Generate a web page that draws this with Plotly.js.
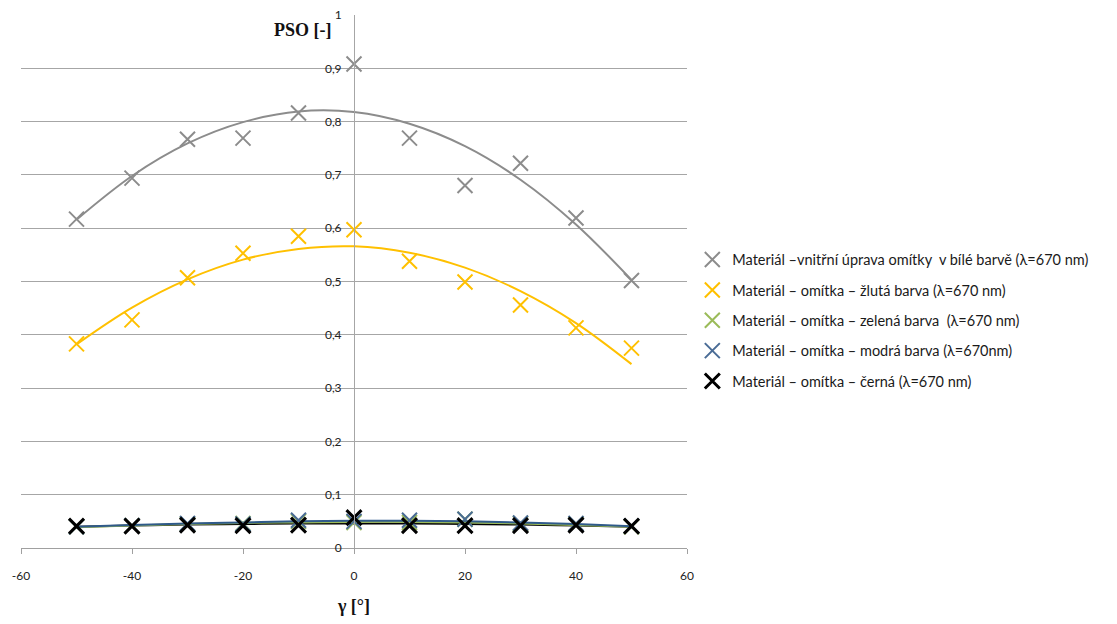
<!DOCTYPE html>
<html>
<head>
<meta charset="utf-8">
<script src="https://cdn.plot.ly/plotly-3.0.1.min.js"></script>
<style>
  html, body { margin: 0; padding: 0; background: #ffffff; }
  #chart { width: 1117px; height: 624px; }
</style>
</head>
<body>
<div id="chart"></div>
<script>
// ---- data ----
const gamma = [-50, -40, -30, -20, -10, 0, 10, 20, 30, 40, 50];

const seriesNames = [
  "Materiál –vnitřní úprava omítky  v bílé barvě (λ=670 nm)",
  "Materiál – omítka – žlutá barva (λ=670 nm)",
  "Materiál – omítka – zelená barva  (λ=670 nm)",
  "Materiál – omítka – modrá barva (λ=670nm)",
  "Materiál – omítka – černá (λ=670 nm)"
];

const psoWhite  = [0.617, 0.694, 0.767, 0.769, 0.816, 0.908, 0.769, 0.680, 0.722, 0.619, 0.502];
const psoYellow = [0.383, 0.428, 0.507, 0.553, 0.585, 0.597, 0.538, 0.499, 0.456, 0.413, 0.375];
const psoGreen  = [0.040, 0.042, 0.045, 0.046, 0.050, 0.048, 0.048, 0.054, 0.046, 0.045, 0.040];
const psoBlue   = [0.040, 0.042, 0.046, 0.045, 0.052, 0.050, 0.052, 0.054, 0.047, 0.046, 0.041];
const psoBlack  = [0.041, 0.041, 0.043, 0.042, 0.043, 0.057, 0.042, 0.042, 0.042, 0.043, 0.041];

// polynomial trend lines
const trendWhite  = [0.616, 0.698, 0.759, 0.799, 0.819, 0.818, 0.796, 0.754, 0.691, 0.607, 0.503];
const trendYellow = [0.382, 0.451, 0.504, 0.541, 0.561, 0.566, 0.554, 0.526, 0.482, 0.422, 0.345];
const trendGreen  = [0.039, 0.042, 0.045, 0.047, 0.048, 0.049, 0.049, 0.048, 0.046, 0.043, 0.040];
const trendBlue   = [0.040, 0.043, 0.046, 0.048, 0.050, 0.051, 0.051, 0.050, 0.048, 0.045, 0.041];
const trendBlack  = [0.040, 0.042, 0.044, 0.045, 0.046, 0.046, 0.046, 0.045, 0.044, 0.042, 0.040];

const yTicks = [0, 0.1, 0.2, 0.3, 0.4, 0.5, 0.6, 0.7, 0.8, 0.9, 1];
const xTicks = [-60, -40, -20, 0, 20, 40, 60];

// ---- styles ----
const colors = ["#8c8c8c", "#ffc000", "#9bbb59", "#4a6c96", "#000000"];
const lineColors = ["#8c8c8c", "#ffc000", "#9bbb59", "#2f5a8a", "#000000"];
const values = [psoWhite, psoYellow, psoGreen, psoBlue, psoBlack];
const trends = [trendWhite, trendYellow, trendGreen, trendBlue, trendBlack];

const traces = [];
const lineOrder = [0, 1, 4, 2, 3];
lineOrder.forEach(i => {
  traces.push({
    x: gamma, y: trends[i], type: "scatter", mode: "lines",
    line: { color: lineColors[i], width: 2, shape: "spline", smoothing: 1 },
    showlegend: false, hoverinfo: "skip", legendgroup: "line" + i
  });
});
[0, 1, 2, 3, 4].forEach(i => {
  traces.push({
    x: gamma, y: values[i], type: "scatter", mode: "markers",
    name: seriesNames[i], legendgroup: "g" + i,
    marker: { symbol: "x-thin", size: 15,
              color: colors[i],
              line: { color: colors[i], width: i === 4 ? 3 : 2 } }
  });
});

const layout = {
  width: 1117, height: 624,
  margin: { l: 21, r: 430, t: 15, b: 76 },
  paper_bgcolor: "#ffffff", plot_bgcolor: "#ffffff",
  separators: ", ",
  font: { family: "Lato, 'Open Sans', sans-serif", size: 12, color: "#222" },
  showlegend: true,
  legend: {
    x: 1.008, y: 0.571, xanchor: "left", yanchor: "top",
    font: { family: "Lato, 'Open Sans', sans-serif", size: 14.5, color: "#1a1a1a" },
    tracegroupgap: 8.5, traceorder: "grouped",
    itemwidth: 30, borderwidth: 0,
    bgcolor: "rgba(0,0,0,0)"
  },
  xaxis: {
    range: [-60, 60], tickvals: xTicks, ticktext: xTicks.map(String),
    showgrid: false, zeroline: false,
    showline: true, linecolor: "#a0a0a0", linewidth: 1,
    ticks: "outside", ticklen: 5, tickcolor: "#a0a0a0",
    ticklabelstandoff: 12,
    tickfont: { size: 12, color: "#222" },
    title: { text: "<b>γ [°]</b>", font: { family: "'Liberation Serif', serif", size: 18, color: "#111" }, standoff: 16 }
  },
  yaxis: {
    range: [0, 1], tickvals: yTicks,
    showgrid: true, gridcolor: "#a6a6a6", gridwidth: 1,
    zeroline: false,
    showline: true, linecolor: "#a6a6a6", linewidth: 1,
    anchor: "free", position: 0.5,
    ticks: "", ticklabelstandoff: 10,
    tickfont: { size: 12, color: "#222" }
  },
  annotations: [{
    text: "<b>PSO [-]</b>", xref: "x", yref: "y", x: -3.6, y: 0.972,
    xanchor: "right", yanchor: "middle", showarrow: false,
    font: { family: "'Liberation Serif', serif", size: 18, color: "#111" }
  }]
};

Plotly.newPlot("chart", traces, layout, { displayModeBar: false, staticPlot: true });
</script>
</body>
</html>
